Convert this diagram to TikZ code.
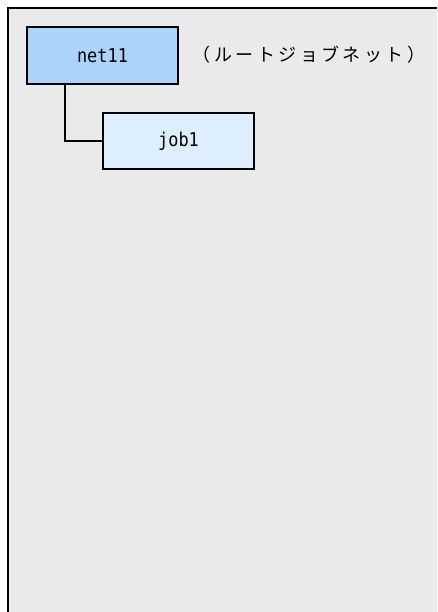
\documentclass[tikz,border=0pt]{standalone}
\usepackage{fontspec}
\newfontfamily\jpfont{Noto Sans CJK JP}
\newfontfamily\monofont{DejaVu Sans Mono}
\definecolor{panelbg}{RGB}{234,234,234}
\definecolor{netfill}{RGB}{170,212,250}
\definecolor{jobfill}{RGB}{221,238,254}
\tikzset{
  netbox/.style={draw=black, line width=1.2pt, fill=netfill, minimum width=151pt, minimum height=57pt, inner sep=0pt,
    font=\monofont\fontsize{19}{19}\selectfont},
  jobbox/.style={draw=black, line width=1.2pt, fill=jobfill, minimum width=151pt, minimum height=56pt, inner sep=0pt,
    font=\monofont\fontsize{19}{19}\selectfont},
  link/.style={draw=black, line width=1.2pt},
  note/.style={font=\jpfont\fontsize{18}{18}\selectfont\addfontfeatures{LetterSpace=19}, inner sep=0pt}
}
\begin{document}
\begin{tikzpicture}[x=1pt,y=1pt]
\useasboundingbox (0,0) rectangle (437,-612);
\fill[white] (0,0) rectangle (437,-612);
\begin{scope}
\clip (0,0) rectangle (437,-612);
\draw[fill=panelbg, line width=1.5pt] (8,-8) rectangle (450,-630);
\end{scope}
\node[netbox] (net) at (102.5,-55.5) {\scalebox{0.89}[1]{net11}};
\node[jobbox] (job) at (178.5,-141) {\scalebox{0.89}[1]{job1}};
\node[note] (lbl) at (309,-55) {（ルートジョブネット）};
\coordinate (bend) at ([xshift=-37.5pt]net.south |- job.west);
\draw[link] ([xshift=-37.5pt]net.south) -- (bend) -- (job.west);
\end{tikzpicture}
\end{document}
